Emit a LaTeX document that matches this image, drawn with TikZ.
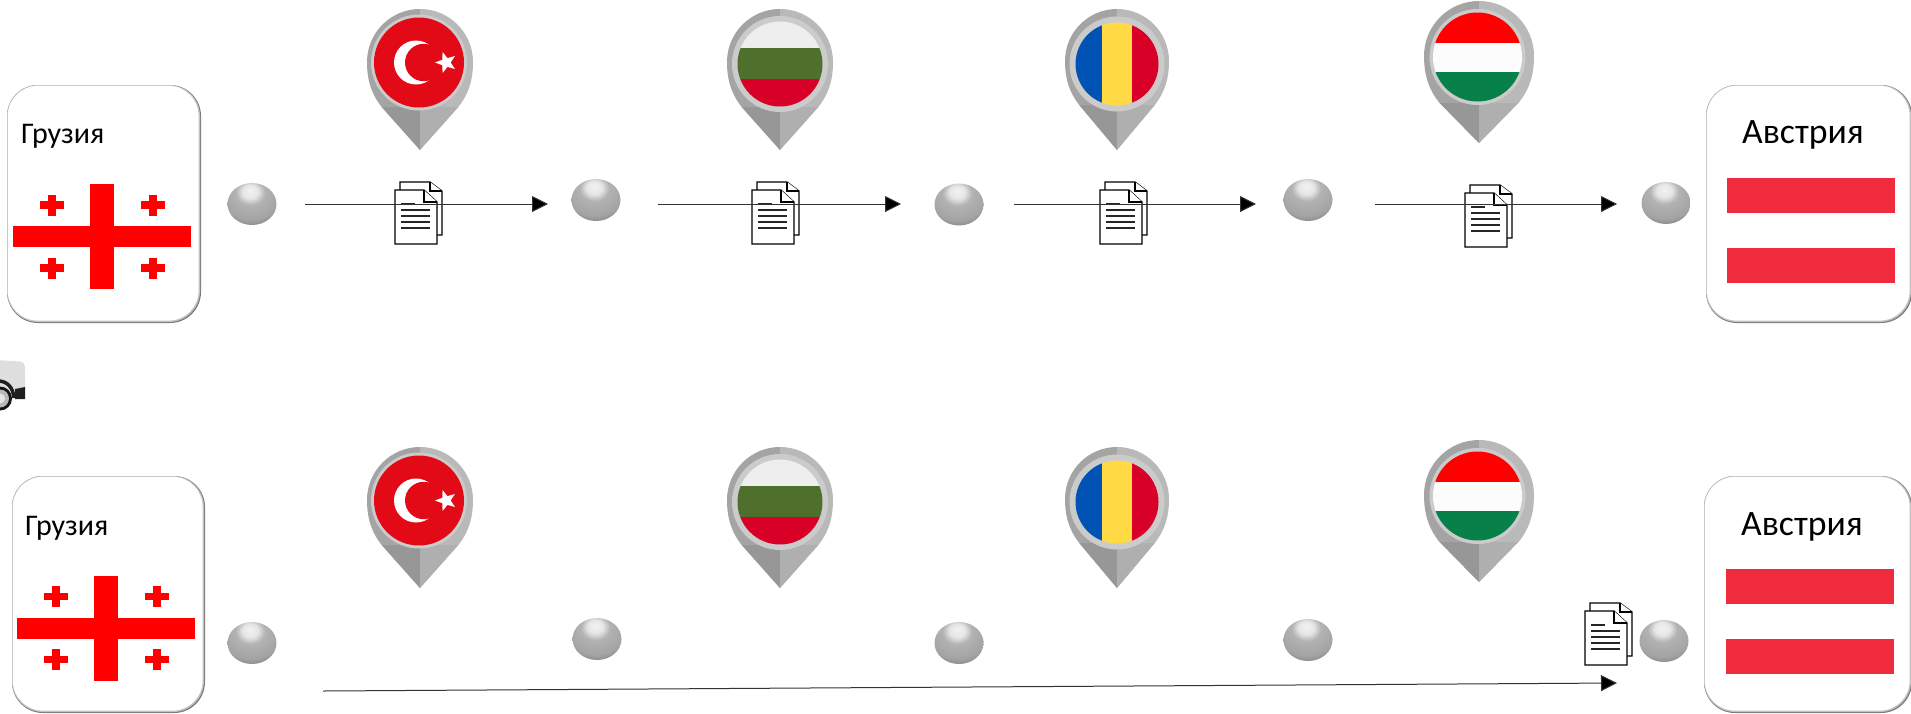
\documentclass[tikz,border=0pt]{standalone}
\usepackage{fontspec}
\setmainfont{Carlito}
\usetikzlibrary{arrows.meta,shapes.geometric}
\definecolor{austred}{HTML}{EF2B3D}
\definecolor{turkred}{HTML}{E30A17}
\definecolor{bgwhite}{HTML}{EEEEEE}
\definecolor{bggreen}{HTML}{4F702D}
\definecolor{flagred}{HTML}{D80027}
\definecolor{roblue}{HTML}{0052B4}
\definecolor{royellow}{HTML}{FFDA44}
\definecolor{hugreen}{HTML}{078049}
\definecolor{pinL}{HTML}{A4A4A4}
\definecolor{pinR}{HTML}{B9B9B9}
\definecolor{coneL}{HTML}{979797}
\definecolor{coneR}{HTML}{AFAFAF}
\definecolor{pinring}{HTML}{CBCBCB}
\definecolor{linegrey}{HTML}{333333}
\pgfdeclareradialshading{orbshade}{\pgfpoint{-2bp}{16bp}}{%
  color(0bp)=(white!95!black);
  color(8bp)=(white!90!black);
  color(15bp)=(white!70!black);
  color(30bp)=(white!64!black);
  color(42bp)=(white!46!black);
  color(52bp)=(white!18!black);
  color(60bp)=(white!25!black);
  color(66bp)=(white!60!black);
  color(100bp)=(white!60!black)}
\tikzset{
  orb/.style={ellipse,minimum width=49,minimum height=42,inner sep=0,shading=orbshade},
  label small/.style={anchor=base west,inner sep=0,font=\fontsize{30}{34}\selectfont},
  label big/.style={anchor=base west,inner sep=0,font=\fontsize{35.7}{40}\selectfont},
  flow/.style={draw=linegrey,line width=1,-{Triangle[length=16,width=16,fill=black]}},
  docsheet/.style={draw=black,line width=1.2,fill=white,line join=miter},
  docline/.style={draw=black!85,line width=1.2},
}
% rounded card with the soft edge at right and bottom
\newcommand\cardbox[4]{%
  \fill[black!52,rounded corners=31] (#1,#2) rectangle (#3,#4);
  \fill[black!24,rounded corners=31] (#1,#2) rectangle (#3-1,#4-1);
  \fill[white,rounded corners=30] (#1+0.8,#2+0.8) rectangle (#3-2.4,#4-2.4);
}
\newcommand\geoflag[2]{%
  \begin{scope}[shift={(#1,#2)}]
    \fill[red] (0,42) rectangle (178,63);
    \fill[red] (77,0) rectangle (101,105);
    \foreach \cx/\cy in {38.5/21,139.5/21,38.5/84,139.5/84}{
      \fill[red] (\cx-12,\cy-3.8) rectangle (\cx+12,\cy+3.8);
      \fill[red] (\cx-4,\cy-10.5) rectangle (\cx+4,\cy+10.5);
    }
  \end{scope}
}
\newcommand\austflag[2]{%
  \fill[austred] (#1,#2) rectangle (#1+168,#2+35);
  \fill[austred] (#1,#2+69.5) rectangle (#1+168,#2+104.5);
}
\newcommand\docicon[2]{%
  \begin{scope}[shift={(#1,#2)}]
    \draw[docsheet] (5,-8) -- (35,-8) -- (47,1) -- (47,45) -- (5,45) -- cycle;
    \draw[docsheet] (35,-8) -- (35,1) -- (47,1);
    \draw[docsheet] (0,0) -- (29,0) -- (42,12) -- (42,54) -- (0,54) -- cycle;
    \draw[docsheet] (29,0) -- (29,12) -- (42,12);
    \draw[docline] (6,14) -- (20,14);
    \foreach \ly in {20,26,32,38}{\draw[docline] (6,\ly) -- (35,\ly);}
  \end{scope}
}
% x, y of head centre, radius, tip distance, flag centre, ring radius, flag radius, flag drawing
\newcommand\mappin[8]{%
  \begin{scope}[shift={(#1,#2)}]
    \begin{scope}
      \clip (0,#4) -- (0.73*#3,0.84*#3)
        .. controls (0.87*#3,0.66*#3) and (#3,0.42*#3) .. (#3,0)
        arc[start angle=0,end angle=-180,radius=#3]
        .. controls (-#3,0.42*#3) and (-0.87*#3,0.66*#3) .. (-0.73*#3,0.84*#3) -- cycle;
      \fill[pinL] (-#3-1,-#3-1) rectangle (0,#4+1);
      \fill[pinR] (0,-#3-1) rectangle (#3+1,#4+1);
      \fill[coneL] (-#3-1,#3-8) rectangle (0,#4+1);
      \fill[coneR] (0,#3-8) rectangle (#3+1,#4+1);
    \end{scope}
    \fill[pinring] (#5) circle[radius=#6];
    \begin{scope}[shift={(#5)}]
      \clip (0,0) circle[radius=#7];
      #8
    \end{scope}
  \end{scope}
}
\newcommand\turkflag{%
  \fill[turkred] (-50,-50) rectangle (50,50);
  \fill[white] (-3,0) circle[radius=22];
  \fill[turkred] (4.7,0) circle[radius=18.7];
  \begin{scope}[shift={(27,0)}]
    \fill[white] (180:11) -- (216:4.6) -- (252:11) -- (288:4.6) -- (324:11)
      -- (0:4.6) -- (36:11) -- (72:4.6) -- (108:11) -- (144:4.6) -- cycle;
  \end{scope}
}
\newcommand\bulgflag{%
  \fill[bgwhite] (-50,-50) rectangle (50,-16);
  \fill[bggreen] (-50,-16) rectangle (50,15);
  \fill[flagred] (-50,15) rectangle (50,50);
}
\newcommand\romflag{%
  \fill[roblue] (-50,-50) rectangle (-15,50);
  \fill[royellow] (-15,-50) rectangle (15,50);
  \fill[flagred] (15,-50) rectangle (50,50);
}
\newcommand\hunflag{%
  \fill[red] (-50,-50) rectangle (50,-14);
  \fill[white!99!black] (-50,-14) rectangle (50,15);
  \fill[hugreen] (-50,15) rectangle (50,50);
}
\begin{document}
\begin{tikzpicture}[x=1pt,y=1pt,yscale=-1]
\useasboundingbox (0,0) rectangle (1911,713);
\fill[white] (0,0) rectangle (1911,713);

% cards
\cardbox{7}{85}{201}{323}
\cardbox{12}{476}{205}{713}
\cardbox{1706}{85}{1912}{323}
\cardbox{1704}{476}{1912}{713}
\node[label small] (geoA) at (21,143) {Грузия};
\node[label small] (geoB) at (25,535) {Грузия};
\node[label big] (ausA) at (1742,143) {Австрия};
\node[label big] (ausB) at (1741,535) {Австрия};
\geoflag{13}{184}
\geoflag{17}{575.5}
\austflag{1727}{178}
\austflag{1726}{569}

% map pins, upper row
\mappin{420}{62}{53}{88}{-1,0.5}{48}{45}{\turkflag}
\mappin{780}{62}{53}{88}{0,2}{48}{42.5}{\bulgflag}
\mappin{1117}{61}{52}{89}{0,3}{47.5}{41.5}{\romflag}
\mappin{1479}{56}{55}{87}{-1.5,1}{48}{44.5}{\hunflag}
% map pins, lower row
\mappin{420}{500}{53}{88}{-1,0.5}{48}{45}{\turkflag}
\mappin{780}{500}{53}{88}{0,2}{48}{42.5}{\bulgflag}
\mappin{1117}{499}{52}{89}{0,3}{47.5}{41.5}{\romflag}
\mappin{1479}{495}{55}{87}{-1.5,1}{48}{44.5}{\hunflag}

% spheres
\node[orb] (a1) at (252,204) {};
\node[orb] (a2) at (596,200) {};
\node[orb] (a3) at (959,204.5) {};
\node[orb] (a4) at (1308,200) {};
\node[orb] (a5) at (1666,203) {};
\node[orb] (b1) at (252,643) {};
\node[orb] (b2) at (597,639) {};
\node[orb] (b3) at (959,643) {};
\node[orb] (b4) at (1308,640) {};
\node[orb] (b5) at (1664,641) {};

% documents
\docicon{395}{190}
\docicon{752}{190}
\docicon{1100}{190}
\docicon{1465}{193}
\docicon{1585}{611}

% truck, cut by the left edge
\begin{scope}
  \clip (0,340) rectangle (40,420);
  \fill[black!13] (-5,360) -- (20,361.5) .. controls (24,362) and (25,365) .. (25,370) -- (25,390) -- (14,396) -- (0,396) -- cycle;
  \fill[black!88] (25,387) -- (25,399) -- (15,399) -- (15,389) -- cycle;
  \draw[black!88,line width=3.5] (-2,381) .. controls (7,381) and (13,387) .. (14,398);
  \fill[black!92] (0,398.5) circle[radius=12];
  \fill[black!28] (0,398.5) circle[radius=9];
  \fill[black!10] (0,398.5) circle[radius=5];
\end{scope}

% connectors
\coordinate (s1) at (305,204); \coordinate (e1) at (548,204);
\coordinate (s2) at (658,204); \coordinate (e2) at (901,204);
\coordinate (s3) at (1014,204); \coordinate (e3) at (1256,204);
\coordinate (s4) at (1375,204); \coordinate (e4) at (1617,204);
\coordinate (s5) at (323,691); \coordinate (e5) at (1617,683);
\draw[flow] (s1) -- (e1);
\draw[flow] (s2) -- (e2);
\draw[flow] (s3) -- (e3);
\draw[flow] (s4) -- (e4);
\draw[flow] (s5) -- (e5);
\end{tikzpicture}
\end{document}
